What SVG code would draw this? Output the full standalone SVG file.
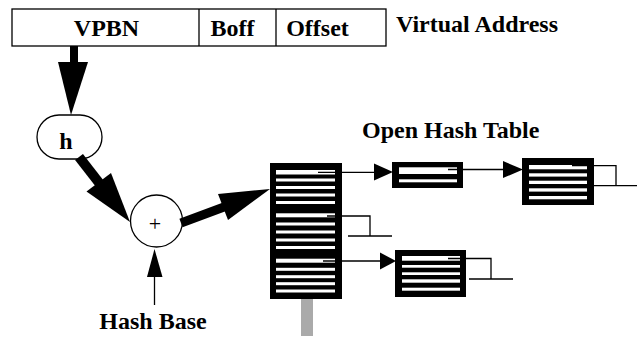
<svg xmlns="http://www.w3.org/2000/svg" width="640" height="337" viewBox="0 0 640 337">
<style>
text{font-family:'Liberation Serif','Times New Roman',serif}
.lbl{font-weight:bold;font-size:24px;fill:#000}
.op{font-size:22px;fill:#000}
.box{fill:#fff;stroke:#000;stroke-width:1.3}
.blk{fill:#000}
.st{fill:#fff}
.ln{fill:none;stroke:#000;stroke-width:1.3}
.thick{fill:none;stroke:#000}
</style>
<rect width="640" height="337" fill="#fff"/>

<g id="virtual-address">
  <rect class="box" x="12" y="9" width="374" height="37"/>
  <line class="ln" x1="199" y1="9" x2="199" y2="46"/>
  <line class="ln" x1="276" y1="9" x2="276" y2="46"/>
  <text class="lbl" x="106.5" y="36" text-anchor="middle">VPBN</text>
  <text class="lbl" x="232.5" y="36" text-anchor="middle">Boff</text>
  <text class="lbl" x="317.5" y="36" text-anchor="middle">Offset</text>
  <text class="lbl" x="396" y="32">Virtual Address</text>
</g>

<g id="hash-function">
  <rect class="box" x="37" y="115" width="65" height="44" rx="22" ry="22"/>
  <text class="lbl" x="66" y="149" text-anchor="middle">h</text>
</g>

<g id="adder">
  <ellipse class="box" cx="156.5" cy="221" rx="26" ry="26"/>
  <text class="op" x="155" y="231" text-anchor="middle">+</text>
</g>

<g id="hash-base">
  <text class="lbl" x="153" y="329" text-anchor="middle">Hash Base</text>
</g>

<g id="open-hash-table-label">
  <text class="lbl" x="362" y="138">Open Hash Table</text>
</g>

<g id="hash-table">
  <rect x="301" y="299" width="12" height="37" fill="#aaa"/>
  <rect class="blk" x="270" y="163" width="72" height="136"/>
  <rect class="st" x="276" y="170" width="59" height="4.5"/>
  <rect class="st" x="276" y="178.5" width="59" height="3"/>
  <rect class="st" x="276" y="186" width="59" height="3"/>
  <rect class="st" x="276" y="193.5" width="59" height="3"/>
  <rect class="st" x="276" y="201" width="59" height="3"/>
  <rect class="st" x="276" y="213.3" width="59" height="4"/>
  <rect class="st" x="276" y="222.5" width="59" height="3"/>
  <rect class="st" x="276" y="230.5" width="59" height="3"/>
  <rect class="st" x="276" y="238.5" width="59" height="3"/>
  <rect class="st" x="276" y="246" width="59" height="3"/>
  <rect class="st" x="276" y="258.7" width="59" height="4"/>
  <rect class="st" x="276" y="267.8" width="59" height="3"/>
  <rect class="st" x="276" y="275.2" width="59" height="3"/>
  <rect class="st" x="276" y="282.2" width="59" height="3"/>
  <rect class="st" x="276" y="289.5" width="59" height="3"/>
</g>

<g id="entry-1">
  <rect class="blk" x="392" y="162" width="71" height="26"/>
  <rect class="st" x="399" y="167.3" width="58" height="6.7"/>
  <rect class="st" x="399" y="179.3" width="58" height="3"/>
</g>

<g id="entry-2">
  <rect class="blk" x="522" y="158" width="72" height="47"/>
  <rect class="st" x="529" y="165" width="58" height="4.3"/>
  <rect class="st" x="529" y="173.3" width="58" height="3.3"/>
  <rect class="st" x="529" y="180.7" width="58" height="3.3"/>
  <rect class="st" x="529" y="188.3" width="58" height="3.3"/>
  <rect class="st" x="529" y="196" width="58" height="3.3"/>
</g>

<g id="entry-3">
  <rect class="blk" x="395" y="250" width="71" height="47"/>
  <rect class="st" x="402" y="256" width="58" height="4.7"/>
  <rect class="st" x="402" y="265" width="58" height="2.7"/>
  <rect class="st" x="402" y="272.3" width="58" height="2.7"/>
  <rect class="st" x="402" y="279.3" width="58" height="3.4"/>
  <rect class="st" x="402" y="287.7" width="58" height="3"/>
</g>

<g id="connectors">
  <rect class="blk" x="70" y="46" width="8" height="17"/>
  <polygon class="blk" points="58,62 88,62 71,115"/>
  <line class="thick" x1="79" y1="157" x2="100" y2="184" stroke-width="10"/>
  <polygon class="blk" points="130,222 111,173 86.5,191.5"/>
  <line class="thick" x1="181" y1="223" x2="224" y2="207" stroke-width="9"/>
  <polygon class="blk" points="270,189 218,194 228,220"/>
  <line class="ln" x1="154.5" y1="305" x2="154.5" y2="272"/>
  <polygon class="blk" points="154.5,249 147,277 162.5,277"/>
  <polyline class="ln" points="318,172.3 375,172.3"/>
  <polygon class="blk" points="374,163.5 374,180.5 393,172"/>
  <polyline class="ln" points="448,169.5 504,169.5"/>
  <polygon class="blk" points="503,161 503,178 523,169.5"/>
  <polyline class="ln" points="572,165.7 616,165.7 616,185.7"/>
  <line class="ln" x1="593" y1="185.7" x2="637" y2="185.7"/>
  <polyline class="ln" points="327,216 370,216 370,236"/>
  <line class="ln" x1="348" y1="236" x2="392" y2="236"/>
  <polyline class="ln" points="323,261 381,261"/>
  <polygon class="blk" points="380,252.5 380,269.5 396,261"/>
  <polyline class="ln" points="448,258.5 491,258.5 491,279"/>
  <line class="ln" x1="469" y1="279" x2="513" y2="279"/>
</g>
</svg>
